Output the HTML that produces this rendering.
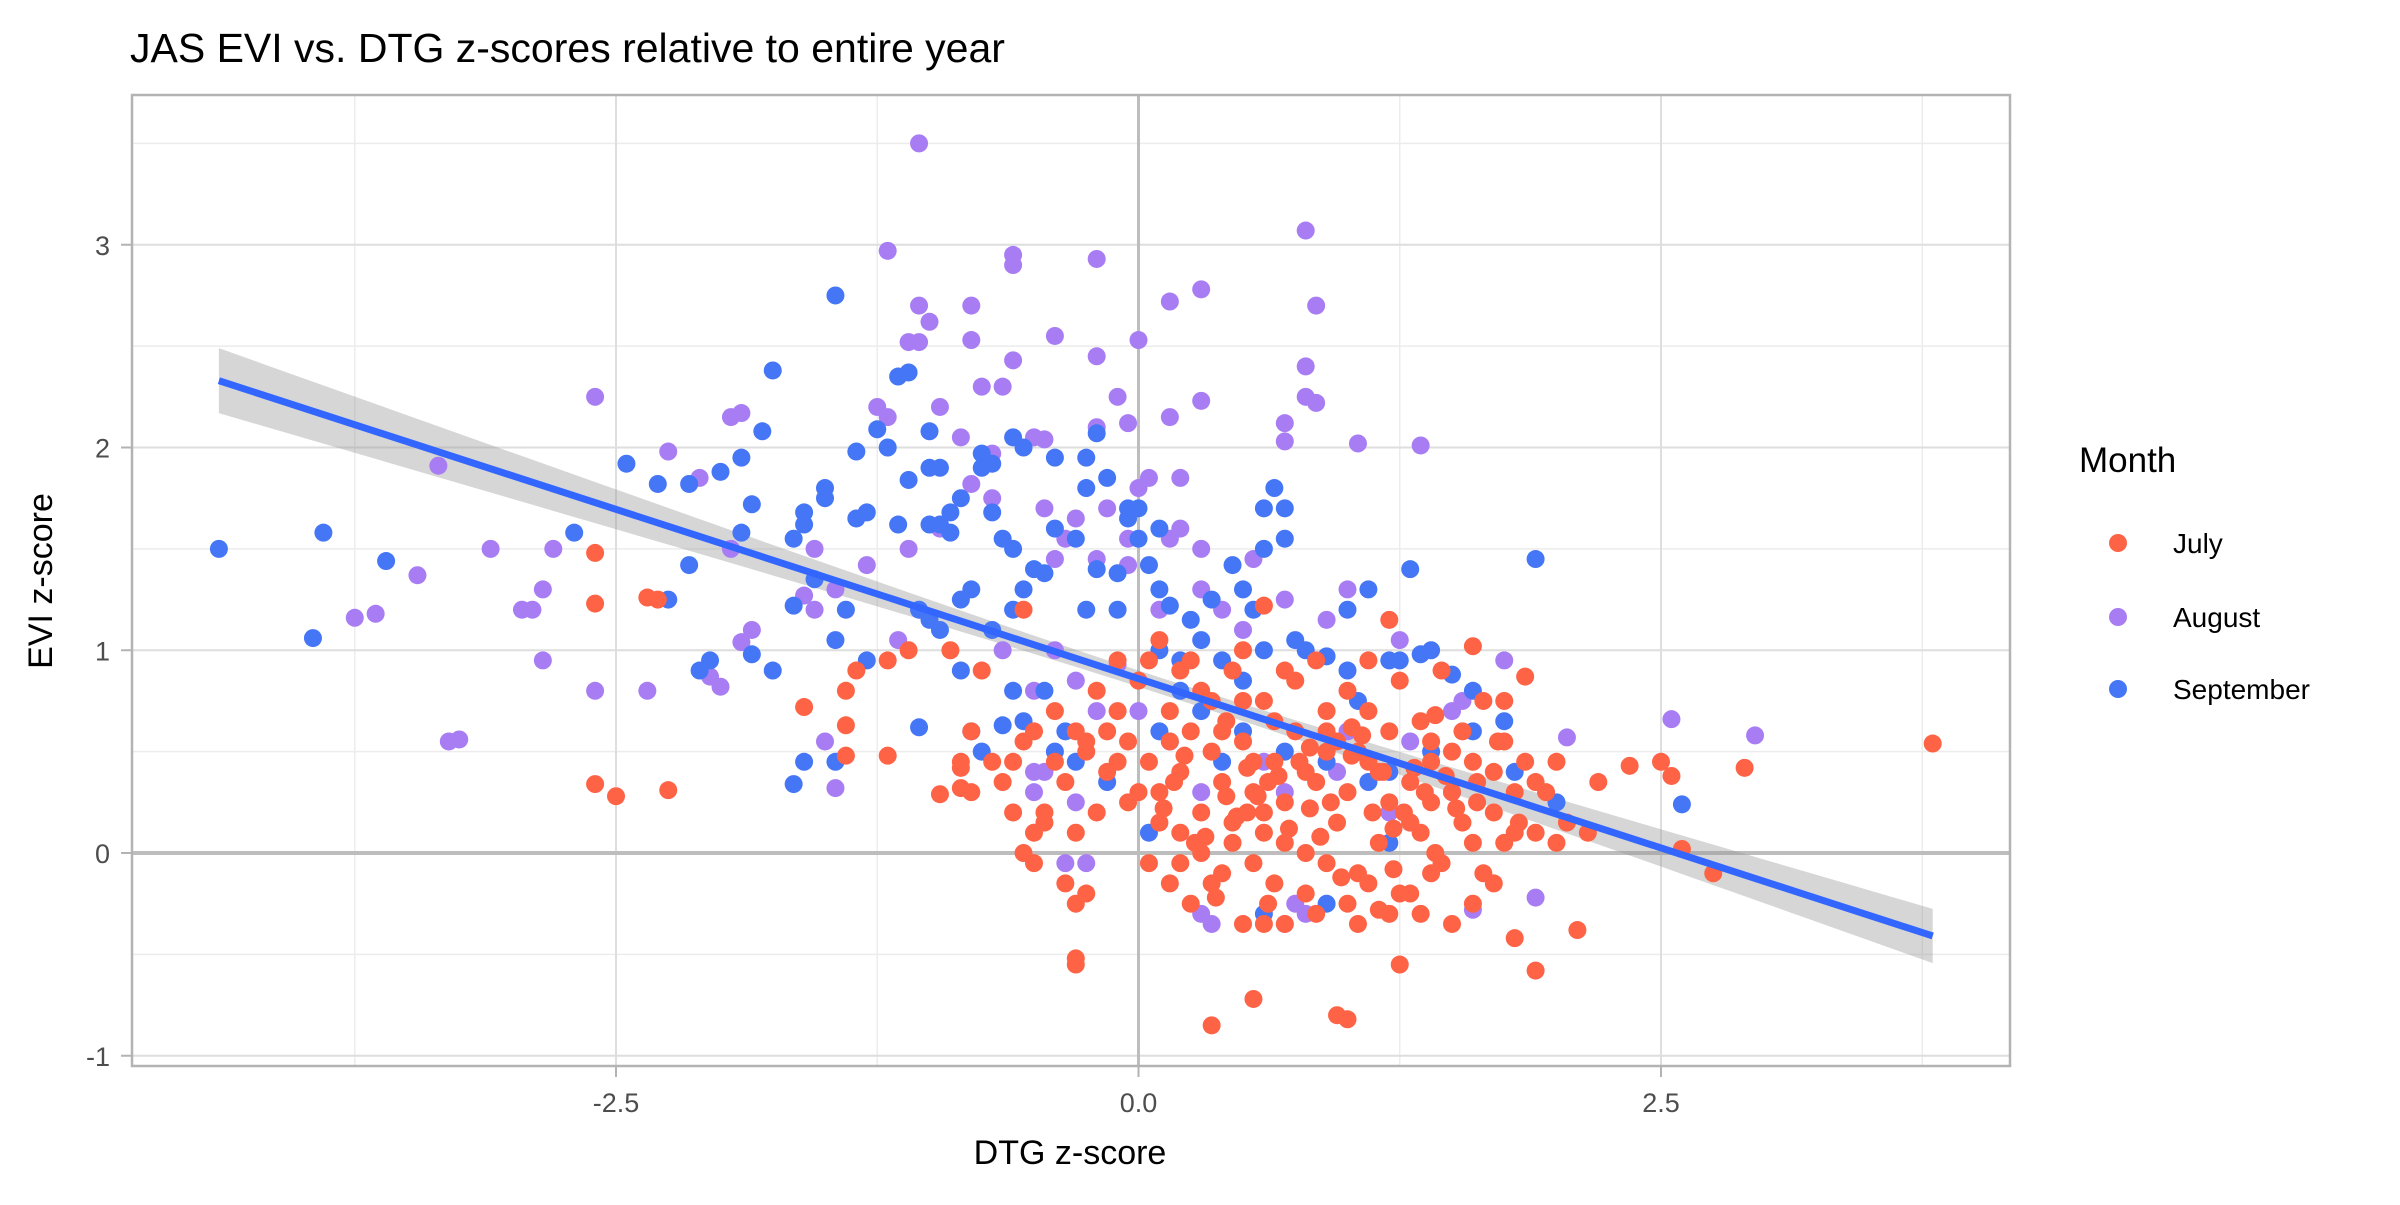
<!DOCTYPE html>
<html><head><meta charset="utf-8"><style>
html,body{margin:0;padding:0;background:#fff;}
svg text{font-family:"Liberation Sans",sans-serif;}
</style></head><body>
<svg id="chart" width="2400" height="1200" viewBox="0 0 2400 1200" xmlns="http://www.w3.org/2000/svg">
<text x="130" y="62" font-size="41" fill="#000">JAS EVI vs. DTG z-scores relative to entire year</text>
<g id="grid"></g>
<g id="band"></g>
<g id="pts"></g>
<g id="fit"></g>
<g id="axes"></g>
<text x="1070" y="1164" font-size="34" text-anchor="middle" fill="#000">DTG z-score</text>
<text transform="translate(52,581) rotate(-90)" font-size="34" text-anchor="middle" fill="#000">EVI z-score</text>
<g>
<text x="2079" y="472" font-size="35" fill="#000">Month</text>
<circle cx="2118" cy="543" r="9" fill="#fe6346"/>
<text x="2173" y="553" font-size="28" fill="#000">July</text>
<circle cx="2118" cy="617" r="9" fill="#a87df4"/>
<text x="2173" y="627" font-size="28" fill="#000">August</text>
<circle cx="2118" cy="689" r="9" fill="#4576f6"/>
<text x="2173" y="699" font-size="28" fill="#000">September</text>
</g>
</svg>
<script>
const xTicks=[-2.5,0,2.5];
const xTickLabels=["-2.5","0.0","2.5"];
const yTicks=[-1,0,1,2,3];
const yTickLabels=["-1","0","1","2","3"];
const fitIntercept=[0.86];
const fitSlope=[-0.334];
const fitRange=[-4.4,3.8];
const julyX=[-2.6,-2.6,-2.3,-2.35,-2.6,-2.5,-2.25,3.8,2.9,2.5,2.55,2.35,2.6,2.75,0.35,0.55,0.95,1.0,-0.3,-0.3,1.25,1.9,2.1,1.8,-1.4,-1.6,-1.4,-1.2,-1.35,-1.4,-1.2,-1.1,-0.95,-0.85,-0.85,-0.75,-0.8,-0.9,-0.55,-0.5,1.85,1.6,2.0,2.2,2.15,1.75,1.2,0.6,1.4,
0.05,0.1,0.15,0.2,0.25,0.3,0.35,0.4,0.45,0.5,0.55,0.6,0.65,0.7,0.75,0.8,0.85,0.9,0.95,1.0,1.05,1.1,1.15,1.2,1.25,1.3,1.35,1.4,1.45,1.5,1.55,1.6,1.65,1.7,1.75,1.8,1.9,0.2,0.3,0.4,0.45,0.55,0.6,0.65,0.7,0.8,0.9,1.0,1.1,1.2,1.3,1.4,1.5,1.6,1.7,0.25,0.35,0.5,0.6,0.7,0.85,1.05,1.15,1.35,0.15,0.3,0.45,0.6,0.75,0.85,1.0,1.1,1.25,1.35,1.45,1.55,1.65,1.75,1.85,1.95,2.05,0.05,0.1,0.2,0.5,0.9,1.2,0.4,0.55,0.65,0.8,0.95,1.05,1.15,1.3,1.4,1.5,1.6,1.7,1.8,1.9,2.0,-0.05,-0.1,-0.15,-0.2,-0.25,-0.3,-0.35,-0.4,-0.45,-0.5,-0.55,-0.5,-0.45,-0.35,-0.3,-0.25,-0.15,-0.05,-0.1,-0.2,-0.25,-0.3,-0.4,-0.6,-0.7,-0.8,-0.85,-0.55,-0.65,-0.6,0.0,0.1,0.05,0.15,0.2,0.0,-0.1,0.25,0.5,0.7,0.9,1.1,0.35,
0.12,0.22,0.32,0.42,0.52,0.62,0.72,0.82,0.92,1.02,1.12,1.22,1.32,1.42,1.52,1.62,1.72,0.27,0.47,0.67,0.87,1.07,1.27,1.47,0.37,0.57,0.77,0.97,1.17,1.37,0.17,0.42,0.62,0.82,1.02,1.22,1.42,1.62,1.82,0.52];
const julyY=[1.48,1.23,1.25,1.26,0.34,0.28,0.31,0.54,0.42,0.45,0.38,0.43,0.02,-0.1,-0.85,-0.72,-0.8,-0.82,-0.52,-0.55,-0.55,-0.58,-0.38,-0.42,0.63,0.72,0.48,0.48,0.9,0.8,0.95,1.0,0.29,0.32,0.42,0.9,0.6,1.0,1.2,0.6,0.87,1.02,0.45,0.35,0.1,0.75,1.15,1.22,0.45,
0.45,0.3,0.55,0.4,0.6,0.2,0.5,0.35,0.15,0.55,0.3,0.1,0.45,0.25,0.6,0.0,0.35,0.5,0.15,0.3,-0.1,0.45,0.05,0.25,-0.2,0.35,0.1,0.55,-0.05,0.3,0.15,0.45,-0.1,0.2,0.05,0.3,0.1,-0.05,0.0,-0.1,0.05,-0.05,0.2,-0.15,0.05,-0.2,-0.05,-0.25,-0.15,-0.3,-0.2,-0.1,-0.35,-0.25,-0.15,-0.25,-0.15,-0.35,-0.35,-0.35,-0.3,-0.35,-0.28,-0.3,0.7,0.8,0.9,0.75,0.85,0.95,0.8,0.7,0.85,0.65,0.9,0.6,0.75,0.55,0.45,0.3,0.15,0.95,1.05,0.9,0.75,0.7,0.6,0.6,0.45,0.65,0.4,0.55,0.5,0.4,0.15,0.25,0.5,0.05,0.4,0.1,0.35,0.05,0.25,0.45,0.6,0.2,0.5,0.1,0.35,0.45,0.2,0.1,0.0,-0.05,0.15,-0.15,-0.25,-0.2,0.4,0.55,0.7,0.8,0.55,0.6,0.7,0.45,0.45,0.3,0.45,0.55,0.35,0.2,0.3,0.15,-0.05,-0.15,0.1,0.85,0.95,0.95,1.0,0.9,0.6,0.95,0.75,
0.22,0.48,0.08,0.28,0.42,0.35,0.12,0.52,0.25,0.62,0.2,0.12,0.42,0.0,0.22,0.35,0.55,0.05,0.18,0.38,0.08,0.58,0.2,0.38,-0.22,0.28,0.45,-0.12,0.4,0.3,0.35,0.65,-0.25,0.22,0.48,-0.08,0.68,0.25,0.15,0.2];
const augustX=[-1.05,-1.2,-0.6,-0.6,-0.2,0.8,-1.05,-0.8,0.3,0.85,0.15,-1.0,-1.1,-1.05,-0.4,0.0,-0.8,-0.2,0.8,-0.6,-1.25,-1.2,-0.65,-0.75,0.85,0.8,0.3,-0.1,-0.05,0.15,-0.5,-0.45,-0.2,-0.7,0.7,0.7,1.05,1.35,-2.6,-2.25,-1.9,-1.95,-2.1,-3.35,-3.1,-2.8,-3.45,-2.85,-2.95,-2.9,-3.75,-3.65,-2.85,-2.6,-2.35,-3.3,-3.25,-2.05,-2.0,-1.9,-1.85,-1.95,-1.55,-1.6,-1.55,-1.45,-1.5,-1.45,-1.15,2.55,2.95,2.05,1.75,1.9,1.6,0.3,0.35,0.75,0.8,0.7,-0.35,-0.25,-0.5,-0.45,-0.5,-0.3,-0.65,-0.5,-0.3,-0.1,-0.4,0.1,0.3,0.55,0.4,0.7,0.5,0.9,1.0,1.25,1.5,1.55,1.0,0.6,0.3,0.7,1.3,1.2,0.95,0.0,-0.2,-0.05,-0.15,-0.3,-0.45,-0.4,-0.2,0.0,-0.05,0.2,0.15,-0.8,-0.7,-0.95,-1.1,-1.3,0.3,-0.85,-0.95,0.05,0.2,-0.35];
const augustY=[3.5,2.97,2.95,2.9,2.93,3.07,2.7,2.7,2.78,2.7,2.72,2.62,2.52,2.52,2.55,2.53,2.53,2.45,2.4,2.43,2.2,2.15,2.3,2.3,2.22,2.25,2.23,2.25,2.12,2.15,2.05,2.04,2.1,1.97,2.12,2.03,2.02,2.01,2.25,1.98,2.17,2.15,1.85,1.91,1.5,1.5,1.37,1.3,1.2,1.2,1.16,1.18,0.95,0.8,0.8,0.55,0.56,0.87,0.82,1.04,1.1,1.5,1.5,1.27,1.2,1.3,0.55,0.32,1.05,0.66,0.58,0.57,0.95,-0.22,-0.28,-0.3,-0.35,-0.25,-0.3,-0.35,-0.05,-0.05,0.3,0.4,0.4,0.25,1.0,0.8,0.85,0.93,1.0,1.2,1.3,1.45,1.2,1.25,1.1,1.15,1.3,1.05,0.7,0.75,0.6,0.45,0.3,0.3,0.55,0.2,0.4,0.7,0.7,1.55,1.7,1.65,1.7,1.45,1.45,1.8,1.42,1.6,1.55,1.82,1.75,1.6,1.5,1.42,1.5,2.05,2.2,1.85,1.85,1.55];
const septX=[-4.4,-3.9,-3.6,-3.95,-2.7,-2.45,-2.3,-2.15,-2.0,-1.9,-1.75,-1.8,-1.45,-1.15,-1.1,-1.25,-1.2,-1.0,-1.35,-1.0,-0.95,-0.4,-0.6,-0.55,-0.25,-0.2,-0.7,-0.75,-0.75,-1.1,-0.85,-0.9,-0.7,-1.15,-1.0,-0.95,-0.9,-1.5,-1.5,-1.6,-1.6,-1.35,-1.3,-1.85,-1.9,-2.15,-2.25,-1.65,-1.65,-1.55,-1.4,-1.45,-1.3,-1.85,-1.75,-2.05,-2.1,-1.6,-1.45,-1.65,-1.05,-1.0,-0.95,-0.7,-0.6,-0.55,-0.5,-0.45,-0.8,-0.85,-0.85,-1.05,-0.8,-0.75,-0.65,-0.55,-0.6,-0.45,-0.6,-0.65,-0.4,-0.3,-0.25,-0.15,-0.05,-0.05,0.0,0.0,0.1,0.05,-0.1,-0.2,-0.25,-0.1,0.1,0.15,0.25,0.3,0.35,0.45,0.5,0.55,0.6,0.6,0.6,0.7,0.65,0.7,0.75,0.8,0.9,1.0,1.1,1.3,1.9,1.0,1.05,1.2,1.25,1.4,1.35,1.5,1.6,1.75,1.8,2.0,2.6,1.6,1.4,1.2,1.1,0.9,0.7,0.5,0.5,0.4,0.2,0.1,0.1,0.05,0.15,0.3,0.4,1.2,1.3,1.5,0.6,0.9,0.2,-0.3,-0.4,-0.15,-0.35];
const septY=[1.5,1.58,1.44,1.06,1.58,1.92,1.82,1.82,1.88,1.95,2.38,2.08,2.75,2.35,2.37,2.09,2.0,2.08,1.98,1.9,1.9,1.95,2.05,2.0,1.95,2.07,1.92,1.9,1.97,1.84,1.75,1.68,1.68,1.62,1.62,1.62,1.58,1.8,1.75,1.68,1.62,1.65,1.68,1.72,1.58,1.42,1.25,1.55,1.22,1.35,1.2,1.05,0.95,0.98,0.9,0.95,0.9,0.45,0.45,0.34,1.2,1.15,1.1,1.1,1.2,1.3,1.4,1.38,1.3,1.25,0.9,0.62,0.6,0.5,0.63,0.65,0.8,0.8,1.5,1.55,1.6,1.55,1.8,1.85,1.7,1.65,1.7,1.55,1.6,1.42,1.38,1.4,1.2,1.2,1.3,1.22,1.15,1.05,1.25,1.42,1.3,1.2,1.0,1.5,1.7,1.7,1.8,1.55,1.05,1.0,0.97,1.2,1.3,1.4,1.45,0.9,0.75,0.95,0.95,1.0,0.98,0.88,0.8,0.65,0.4,0.25,0.24,0.6,0.5,0.4,0.35,0.45,0.5,0.6,0.85,0.95,0.95,1.0,0.6,0.1,0.55,0.7,0.45,0.05,0.15,0.3,-0.3,-0.25,0.8,0.45,0.5,0.35,0.6];

const NS='http://www.w3.org/2000/svg';
const L=132,R=2010,T=95,B=1066;
const X0=1138.5,XU=209,Y0=853,YU=202.75;
function sx(v){return X0+v*XU;}
function sy(v){return Y0-v*YU;}
function mk(tag,parent,attrs){const e=document.createElementNS(NS,tag);for(const k in attrs)e.setAttribute(k,attrs[k]);parent.appendChild(e);return e;}
const grid=document.getElementById('grid');
const bg=mk('rect',grid,{x:L,y:T,width:R-L,height:B-T,fill:'#fff'});


for(let v=-1.25*3;v<=4;v+=1.25){if(Math.abs((v/2.5)-Math.round(v/2.5))<1e-6)continue;const x=sx(v);if(x<L||x>R)continue;
 const g=mk('line',grid,{x1:x,x2:x,y1:T,y2:B,stroke:'#ececec','stroke-width':1.5});
 
 }
for(let v=-0.5;v<=3.5;v+=1){const y=sy(v);
 const g=mk('line',grid,{x1:L,x2:R,y1:y,y2:y,stroke:'#ececec','stroke-width':1.5});
 
 }
xTicks.forEach((v,i)=>{const x=sx(v);
 const g=mk('line',grid,{x1:x,x2:x,y1:T,y2:B,stroke:'#dedede','stroke-width':2});
 
 
 const tk=mk('line',grid,{x1:x,x2:x,y1:B,y2:B+11,stroke:'#b3b3b3','stroke-width':2});
 
 
 const t=mk('text',grid,{x:x,y:1112,'font-size':27,fill:'#4d4d4d','text-anchor':'middle'});t.textContent=xTickLabels[i];
 
 });
yTicks.forEach((v,i)=>{const y=sy(v);
 const g=mk('line',grid,{x1:L,x2:R,y1:y,y2:y,stroke:'#dedede','stroke-width':2});
 
 
 const tk=mk('line',grid,{x1:L-11,x2:L,y1:y,y2:y,stroke:'#b3b3b3','stroke-width':2});
 
 
 const t=mk('text',grid,{x:L-22,y:y+10,'font-size':27,fill:'#4d4d4d','text-anchor':'end'});t.textContent=yTickLabels[i];
 
 });
const hz=mk('line',grid,{x1:L,x2:R,y1:sy(0),y2:sy(0),stroke:'#bdbdbd','stroke-width':4});


const vz=mk('line',grid,{x1:sx(0),x2:sx(0),y1:T,y2:B,stroke:'#bdbdbd','stroke-width':3});


function se(x){return Math.sqrt(0.0016+0.00119*(x-0.1)*(x-0.1));}
function fy(x){return fitIntercept[0]+fitSlope[0]*x;}
let up=[],dn=[];
for(let i=0;i<=40;i++){const x=fitRange[0]+(fitRange[1]-fitRange[0])*i/40;up.push(sx(x)+','+sy(fy(x)+se(x)));dn.unshift(sx(x)+','+sy(fy(x)-se(x)));}
const band=mk('polygon',document.getElementById('band'),{points:up.concat(dn).join(' '),fill:'#999',opacity:0.4});


const pts=document.getElementById('pts');
function drawSeries(xs,ys,col,name){for(let i=0;i<xs.length;i++){
 const c=mk('circle',pts,{cx:sx(xs[i]),cy:sy(ys[i]),r:9,fill:col});
 
 }}
drawSeries(augustX,augustY,'#a87df4','point-august');
drawSeries(septX,septY,'#4576f6','point-september');
drawSeries(julyX,julyY,'#fe6346','point-july');
const fl=mk('line',document.getElementById('fit'),{x1:sx(fitRange[0]),y1:sy(fy(fitRange[0])),x2:sx(fitRange[1]),y2:sy(fy(fitRange[1])),stroke:'#3366ff','stroke-width':7});


const fr=mk('rect',document.getElementById('axes'),{x:L,y:T,width:R-L,height:B-T,fill:'none',stroke:'#b3b3b3','stroke-width':2.5});


</script>
</body></html>
